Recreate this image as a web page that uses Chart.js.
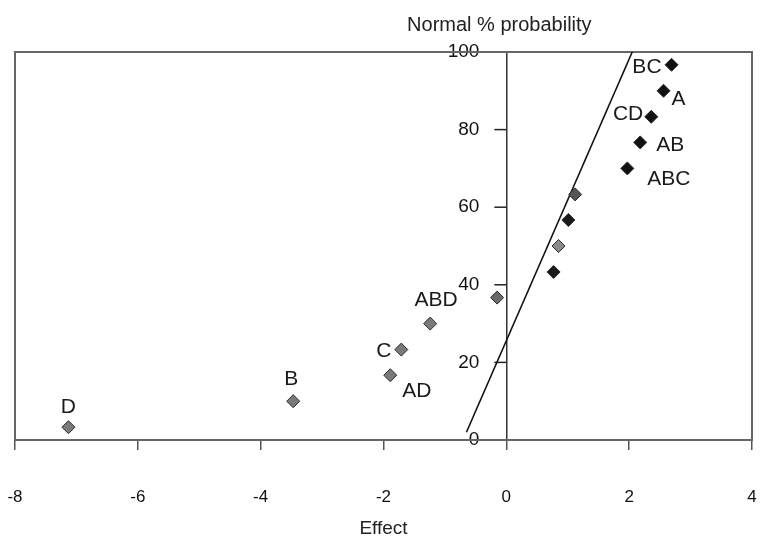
<!DOCTYPE html>
<html>
<head>
<meta charset="utf-8">
<script src="https://cdn.jsdelivr.net/npm/chart.js@4.4.1/dist/chart.umd.min.js"></script>
<style>
    html, body { margin: 0; padding: 0; background: #fff; }
    #wrap { width: 761px; height: 541px; }
</style>
</head>
<body>
<div id="wrap"><canvas id="nppChart"></canvas></div>
<script>
// effects, sorted, with their normal % probability
var effectNames = ['D', 'B', 'AD', 'C', 'ABD', '', '', '', '', '', 'ABC', 'AB', 'CD', 'A', 'BC'];
var effectValues = [-7.13, -3.47, -1.89, -1.71, -1.24, -0.15, 0.77, 0.85, 1.01, 1.12, 1.97, 2.18, 2.36, 2.56, 2.69];
var probValues = [3.3, 10, 16.7, 23.3, 30, 36.7, 43.3, 50, 56.7, 63.3, 70, 76.7, 83.3, 90, 96.7];

// straight reference line
var fitLineX = [-0.65, 2.05];
var fitLineY = [2, 100];

var xTicks = [-8, -6, -4, -2, 0, 2, 4];
var yTicks = [0, 20, 40, 60, 80, 100];

// styling
var markerFill = ['#7a7a7a', '#7a7a7a', '#7a7a7a', '#7a7a7a', '#7a7a7a', '#6a6a6a', '#1a1a1a', '#8a8a8a',
                  '#1a1a1a', '#555555', '#111111', '#111111', '#111111', '#111111', '#111111'];
var labelOffset = {
    'D':   [0, -20, 'center'],
    'B':   [-2, -22, 'center'],
    'AD':  [12, 16, 'left'],
    'C':   [-10, 2, 'right'],
    'ABD': [6, -23, 'center'],
    'ABC': [20, 11, 'left'],
    'AB':  [16, 3, 'left'],
    'CD':  [-8, -3, 'right'],
    'A':   [8, 8, 'left'],
    'BC':  [-10, 2, 'right']
};

var FONT = '"Liberation Sans", Arial, sans-serif';

var points = effectValues.map(function(v, i){
    return {x: v, y: probValues[i]};
});
var fitLine = fitLineX.map(function(v, i){
    return {x: v, y: fitLineY[i]};
});

var extras = {
    id: 'extras',
    beforeDatasetsDraw: function(chart){
        var ctx = chart.ctx;
        var a = chart.chartArea;
        var xs = chart.scales.x, ys = chart.scales.y;
        var x0 = xs.getPixelForValue(0);
        ctx.save();
        // y ticks and labels beside the axis at x = 0
        ctx.strokeStyle = '#222';
        ctx.lineWidth = 1.5;
        ctx.fillStyle = '#111';
        ctx.font = '19px ' + FONT;
        ctx.textAlign = 'right';
        ctx.textBaseline = 'middle';
        yTicks.forEach(function(v){
            var py = ys.getPixelForValue(v);
            ctx.beginPath();
            ctx.moveTo(x0 - 12, py);
            ctx.lineTo(x0, py);
            ctx.stroke();
            ctx.fillText(String(v), x0 - 27, py);
        });
        // frame
        ctx.strokeStyle = '#666';
        ctx.lineWidth = 2;
        ctx.strokeRect(a.left, a.top, a.right - a.left, a.bottom - a.top);
        ctx.restore();
    },
    afterDraw: function(chart){
        var ctx = chart.ctx;
        var meta = chart.getDatasetMeta(0);
        ctx.save();
        ctx.fillStyle = '#1a1a1a';
        ctx.font = '21px ' + FONT;
        ctx.textBaseline = 'middle';
        meta.data.forEach(function(pt, i){
            var name = effectNames[i];
            if (!name) return;
            var off = labelOffset[name];
            ctx.textAlign = off[2];
            ctx.fillText(name, pt.x + off[0], pt.y + off[1]);
        });
        // axis title for the probability axis, above the plot
        ctx.font = '20px ' + FONT;
        ctx.textAlign = 'center';
        ctx.fillStyle = '#222';
        ctx.fillText('Normal % probability', chart.scales.x.getPixelForValue(0) - 7, 25);
        ctx.restore();
    }
};

var ctx = document.getElementById('nppChart').getContext('2d');
var config = {
    type: 'scatter',
    data: {
        datasets: [{
            data: points,
            pointStyle: 'rectRot',
            pointRadius: 6.5,
            backgroundColor: markerFill,
            borderColor: '#2a2a2a',
            borderWidth: 1
        }, {
            type: 'line',
            data: fitLine,
            borderColor: '#111',
            borderWidth: 1.6,
            pointRadius: 0,
            fill: false
        }]
    },
    options: {
        responsive: true,
        maintainAspectRatio: false,
        animation: false,
        layout: {
            padding: {top: 52, left: 15, right: 9, bottom: 0}
        },
        plugins: {
            legend: {display: false},
            tooltip: {enabled: false}
        },
        scales: {
            x: {
                type: 'linear',
                position: 'bottom',
                min: -8,
                max: 4,
                afterBuildTicks: function(s){
                    s.ticks = xTicks.map(function(v){ return {value: v}; });
                },
                afterFit: function(s){
                    s.height = 101;
                    s.paddingLeft = 0;
                    s.paddingRight = 0;
                },
                grid: {drawOnChartArea: false, tickLength: 10, color: '#555', lineWidth: 1.5},
                border: {display: false},
                ticks: {padding: 37, color: '#111', font: {size: 17, family: FONT}},
                title: {display: true, text: 'Effect', color: '#222', font: {size: 19, family: FONT}, padding: {top: 0, bottom: 1}}
            },
            y: {
                type: 'linear',
                position: {x: 0},
                min: 0,
                max: 100,
                afterBuildTicks: function(s){
                    s.ticks = yTicks.map(function(v){ return {value: v}; });
                },
                afterFit: function(s){
                    s.width = 0;
                    s.paddingTop = 0;
                    s.paddingBottom = 0;
                },
                grid: {display: false},
                border: {display: true, color: '#333', width: 1.5},
                ticks: {display: false}
            }
        }
    },
    plugins: [extras]
};
var nppChart = new Chart(ctx, config);
</script>
</body>
</html>
